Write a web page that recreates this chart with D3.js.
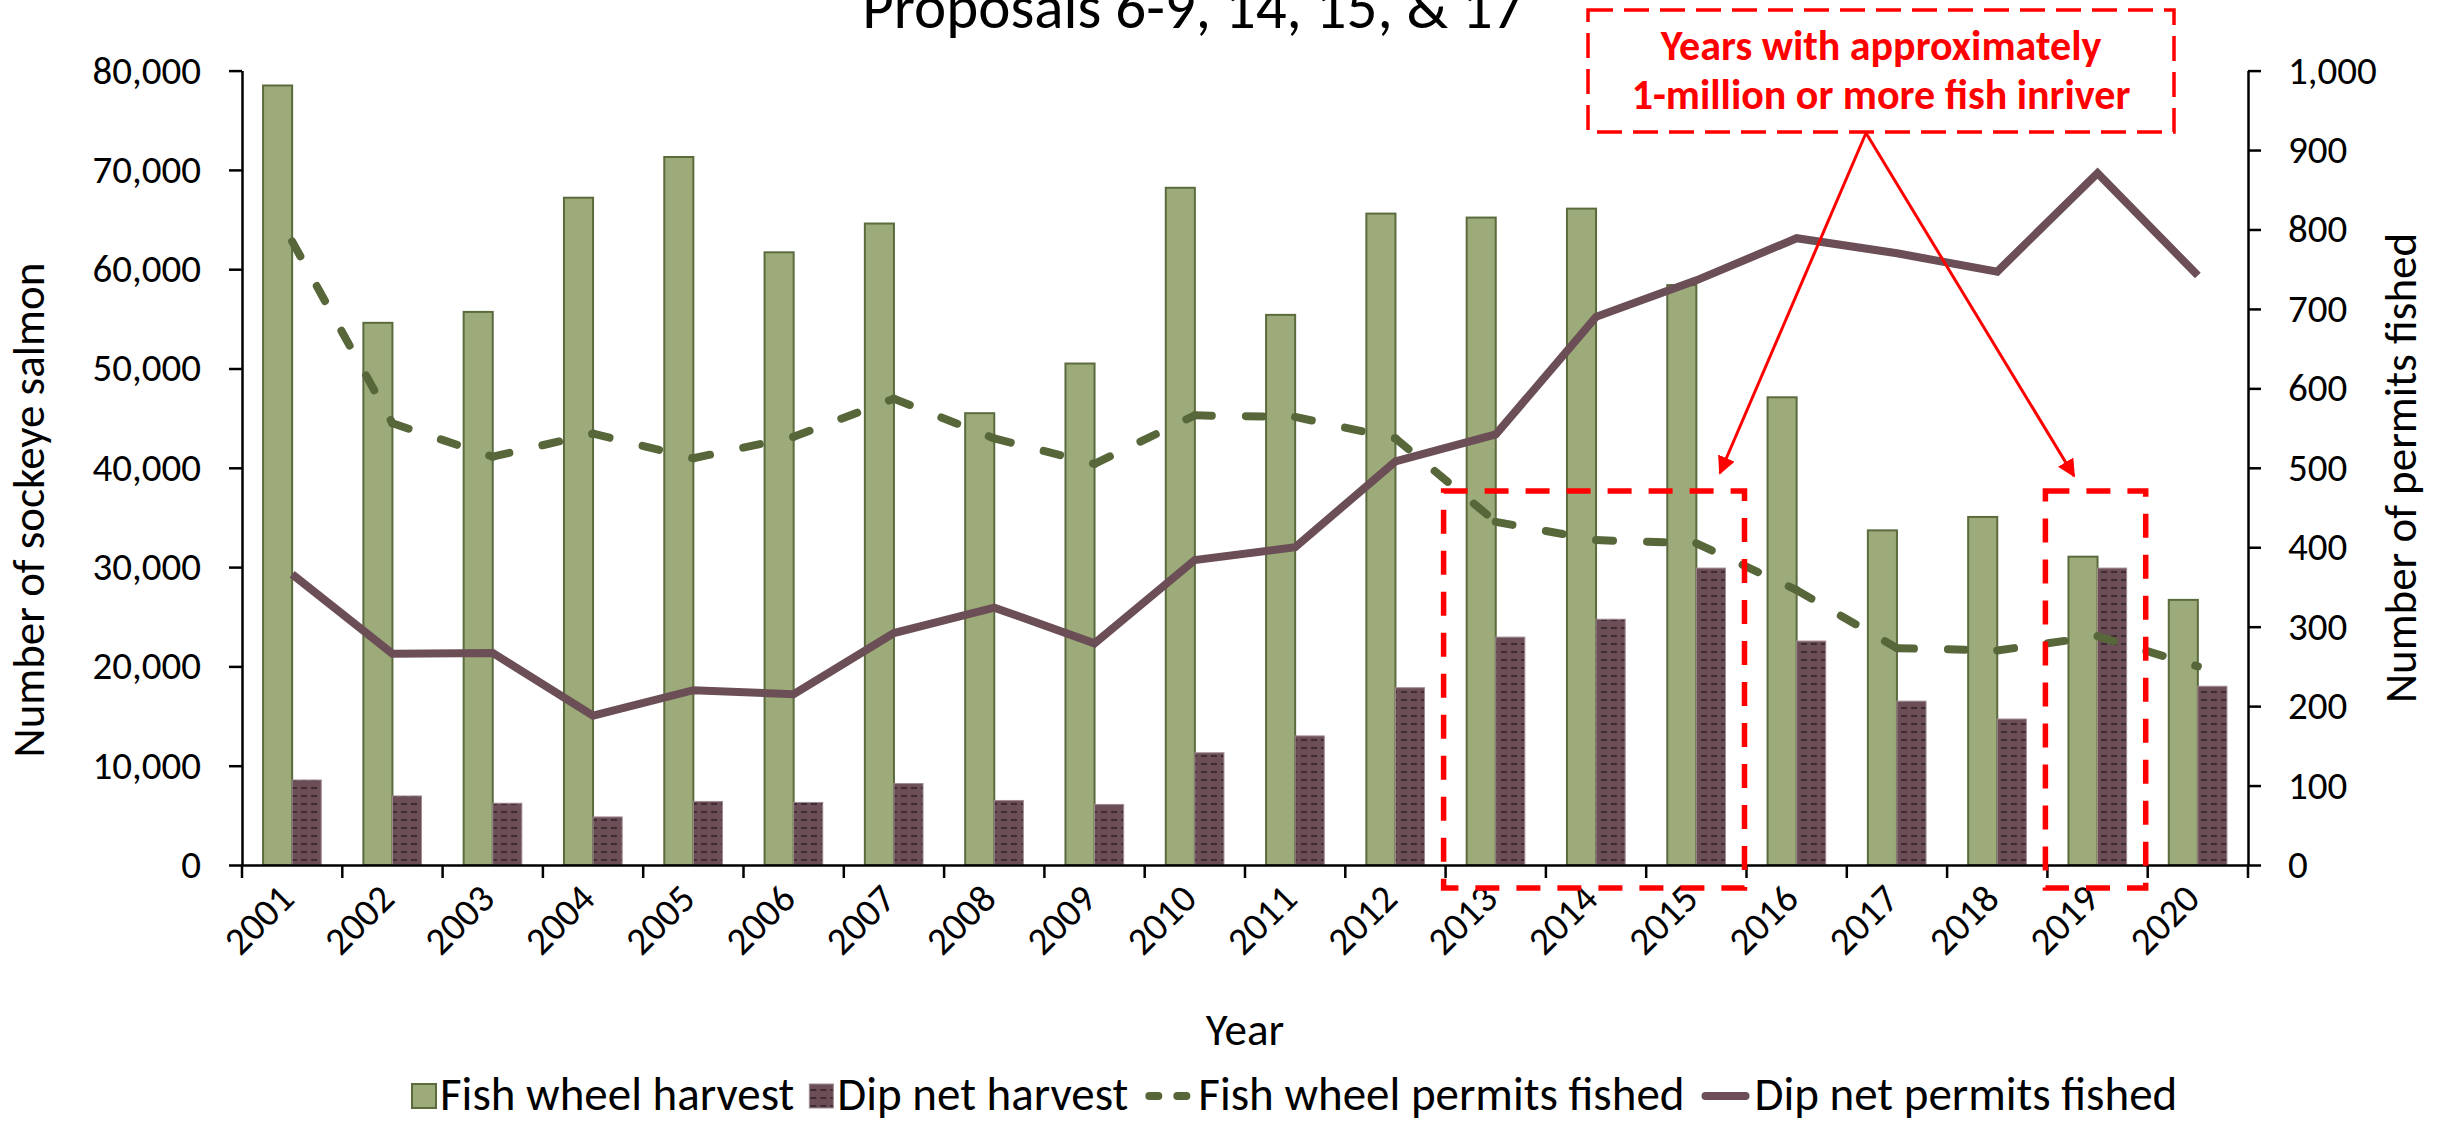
<!DOCTYPE html>
<html>
<head>
<meta charset="utf-8">
<script src="https://cdn.jsdelivr.net/npm/d3@7"></script>
<style>
  body { margin: 0; background: #fff; }
  svg { display: block; }
</style>
</head>
<body>
<svg id="chart" width="2446" height="1124"></svg>
<script>
// values
var years = ['2001', '2002', '2003', '2004', '2005', '2006', '2007', '2008', '2009', '2010',
             '2011', '2012', '2013', '2014', '2015', '2016', '2017', '2018', '2019', '2020'];
var fishWheelHarvest = [78500, 54600, 55700, 67200, 71300, 61700, 64600, 45500, 50500, 68200,
                        55400, 65600, 65200, 66100, 58400, 47100, 33700, 35050, 31050, 26700];
var dipNetHarvest = [8560, 6950, 6220, 4840, 6400, 6300, 8200, 6500, 6100, 11300,
                     13000, 17850, 22950, 24750, 29900, 22550, 16500, 14700, 29900, 18000];
var fishWheelPermits = [785, 556, 514, 543, 512, 539, 587, 537, 505, 566,
                        564, 537, 432, 409, 405, 346, 273, 270, 288, 250];
var dipNetPermits = [366, 266, 267, 188, 220, 215, 292, 324, 279, 384,
                     400, 508, 542, 690, 736, 789, 770, 747, 871, 742];
var leftTicks = [0, 10000, 20000, 30000, 40000, 50000, 60000, 70000, 80000];
var rightTicks = [0, 100, 200, 300, 400, 500, 600, 700, 800, 900, 1000];
var highlights = [['2013', '2015'], ['2019', '2019']];
var legendItems = ['Fish wheel harvest', 'Dip net harvest', 'Fish wheel permits fished', 'Dip net permits fished'];

var calibri = 'Carlito, Calibri, "Liberation Sans Narrow", "Open Sans", sans-serif';
var green = '#9cab79', greenEdge = '#5b6b3d', plum = '#6b4e56', dashGreen = '#58673a';

var svg = d3.select('#chart');
var plotLeft = 242, plotRight = 2248, plotTop = 70.6, plotBottom = 865;

var x = d3.scaleBand().domain(years).range([plotLeft, plotRight]);
var yLeft = d3.scaleLinear().domain([0, 80000]).range([plotBottom, plotTop]);
var yRight = d3.scaleLinear().domain([0, 1000]).range([plotBottom, plotTop]);
var groupW = x.bandwidth() * 0.58;
var inner = d3.scaleBand().domain(['fw', 'dn']).range([0, groupW]);
var groupOff = (x.bandwidth() - groupW) / 2;
var cx = function(i) { return x(years[i]) + x.bandwidth() / 2; };

// hatch for the dip net bars
var defs = svg.append('defs');
var pat = defs.append('pattern').attr('id', 'dashHorz').attr('patternUnits', 'userSpaceOnUse')
    .attr('width', 10).attr('height', 8);
pat.append('rect').attr('width', 10).attr('height', 8).attr('fill', plum);
pat.append('rect').attr('x', 1).attr('y', 3).attr('width', 6).attr('height', 2).attr('fill', '#3e2c32');

defs.append('marker').attr('id', 'arrow').attr('viewBox', '0 0 10 10').attr('refX', 9).attr('refY', 5)
    .attr('markerWidth', 6).attr('markerHeight', 6).attr('markerUnits', 'strokeWidth').attr('orient', 'auto')
    .append('path').attr('d', 'M0,0 L10,5 L0,10 Z').attr('fill', '#ff0000');

// title (cut off at top like the reference)
svg.append('text').attr('x', 1193).attr('y', 28).attr('text-anchor', 'middle')
    .style('font-family', calibri).style('font-size', '61px').attr('fill', '#000')
    .text('Proposals 6-9, 14, 15, & 17');

// bars
svg.append('g').selectAll('rect').data(fishWheelHarvest).enter().append('rect')
    .attr('x', function(d, i) { return x(years[i]) + groupOff + inner('fw'); })
    .attr('y', function(d) { return yLeft(d); })
    .attr('width', inner.bandwidth())
    .attr('height', function(d) { return yLeft(0) - yLeft(d); })
    .attr('fill', green).attr('stroke', greenEdge).attr('stroke-width', 2);

svg.append('g').selectAll('rect').data(dipNetHarvest).enter().append('rect')
    .attr('x', function(d, i) { return x(years[i]) + groupOff + inner('dn'); })
    .attr('y', function(d) { return yLeft(d); })
    .attr('width', inner.bandwidth())
    .attr('height', function(d) { return yLeft(0) - yLeft(d); })
    .attr('fill', 'url(#dashHorz)').attr('stroke', '#a08a91').attr('stroke-width', 1);

// permit lines; the dash pattern restarts at every point, as in the original
var line = d3.line().x(function(d) { return cx(d.i); }).y(function(d) { return yRight(d.v); });
var fwPairs = d3.pairs(fishWheelPermits.map(function(v, i) { return {i: i, v: v}; }));
svg.append('g').selectAll('path').data(fwPairs).enter().append('path')
    .attr('d', line).attr('fill', 'none')
    .attr('stroke', dashGreen).attr('stroke-width', 8).attr('stroke-linecap', 'round')
    .attr('stroke-dasharray', '17 34');
svg.append('path').datum(dipNetPermits.map(function(v, i) { return {i: i, v: v}; }))
    .attr('d', line).attr('fill', 'none')
    .attr('stroke', plum).attr('stroke-width', 8).attr('stroke-linejoin', 'miter');

// axes
var axLeft = svg.append('g').attr('transform', 'translate(' + plotLeft + ',0)')
    .call(d3.axisLeft(yLeft).tickValues(leftTicks).tickSize(13).tickSizeOuter(0).tickPadding(28)
        .tickFormat(d3.format(',')));
var axRight = svg.append('g').attr('transform', 'translate(' + plotRight + ',0)')
    .call(d3.axisRight(yRight).tickValues(rightTicks).tickSize(13).tickSizeOuter(0).tickPadding(27)
        .tickFormat(d3.format(',')));
var axBottom = svg.append('g').attr('transform', 'translate(0,' + plotBottom + ')')
    .call(d3.axisBottom(x).tickSize(0).tickSizeOuter(0));
axBottom.selectAll('.tick text')
    .attr('text-anchor', 'end').attr('x', 0).attr('y', 0).attr('dy', 0)
    .attr('transform', 'translate(4,36) rotate(-45)');
// tick marks on category edges
axBottom.selectAll('.edge').data(years.concat(['end'])).enter().append('line')
    .attr('x1', function(d) { return d === 'end' ? plotRight : x(d); })
    .attr('x2', function(d) { return d === 'end' ? plotRight : x(d); })
    .attr('y1', 0).attr('y2', 13).attr('stroke', '#000');

[axLeft, axRight, axBottom].forEach(function(a) {
    a.selectAll('path, line').attr('stroke', '#000').attr('stroke-width', 2.5);
    a.selectAll('text').style('font-family', calibri).style('font-size', '39px').attr('fill', '#000');
});

// axis titles
svg.append('text').attr('transform', 'translate(44,510) rotate(-90)').attr('text-anchor', 'middle')
    .style('font-family', calibri).style('font-size', '45px').text('Number of sockeye salmon');
svg.append('text').attr('transform', 'translate(2416,468) rotate(-90)').attr('text-anchor', 'middle')
    .style('font-family', calibri).style('font-size', '45px').text('Number of permits fished');
svg.append('text').attr('x', 1245).attr('y', 1045).attr('text-anchor', 'middle')
    .style('font-family', calibri).style('font-size', '45px').text('Year');

// highlighted years
svg.append('g').selectAll('rect').data(highlights).enter().append('rect')
    .attr('x', function(d) { return x(d[0]) - 2; })
    .attr('y', 491)
    .attr('width', function(d) { return x(d[1]) + x.bandwidth() - x(d[0]); })
    .attr('height', 397)
    .attr('fill', 'none').attr('stroke', '#ff0000').attr('stroke-width', 5.5)
    .attr('stroke-dasharray', '24 17');

// callout
svg.append('rect').attr('x', 1588).attr('y', 10).attr('width', 586).attr('height', 122)
    .attr('fill', '#fff').attr('stroke', '#ff0000').attr('stroke-width', 3.5).attr('stroke-dasharray', '25 11');
svg.append('text').attr('x', 1881).attr('y', 60).attr('text-anchor', 'middle')
    .style('font-family', calibri).style('font-size', '42px').style('font-weight', 'bold').attr('fill', '#ff0000')
    .text('Years with approximately');
svg.append('text').attr('x', 1881).attr('y', 109).attr('text-anchor', 'middle')
    .style('font-family', calibri).style('font-size', '42px').style('font-weight', 'bold').attr('fill', '#ff0000')
    .text('1-million or more fish inriver');
[[1720, 473], [2074, 476]].forEach(function(p) {
    svg.append('line').attr('x1', 1866).attr('y1', 133).attr('x2', p[0]).attr('y2', p[1])
        .attr('stroke', '#ff0000').attr('stroke-width', 3).attr('marker-end', 'url(#arrow)');
});

// legend
var legend = svg.append('g').attr('transform', 'translate(412,1110)');
var lx = 0;
legendItems.forEach(function(name, i) {
    var g = legend.append('g').attr('transform', 'translate(' + lx + ',0)');
    var symW;
    if (i < 2) {
        symW = 25;
        g.append('rect').attr('x', 0).attr('y', -26).attr('width', 24).attr('height', 24)
            .attr('fill', i === 0 ? green : 'url(#dashHorz)')
            .attr('stroke', i === 0 ? greenEdge : '#a08a91').attr('stroke-width', i === 0 ? 2 : 1);
    } else {
        symW = 52;
        g.append('line').attr('x1', 6).attr('x2', 46).attr('y1', -14).attr('y2', -14)
            .attr('stroke', i === 2 ? dashGreen : plum).attr('stroke-width', 8).attr('stroke-linecap', 'round')
            .attr('stroke-dasharray', i === 2 ? '9 19' : null);
    }
    var t = g.append('text').attr('x', symW + 3).attr('y', 0)
        .style('font-family', calibri).style('font-size', '47px').text(name);
    lx += symW + 3 + t.node().getComputedTextLength() + 15;
});
</script>
</body>
</html>
